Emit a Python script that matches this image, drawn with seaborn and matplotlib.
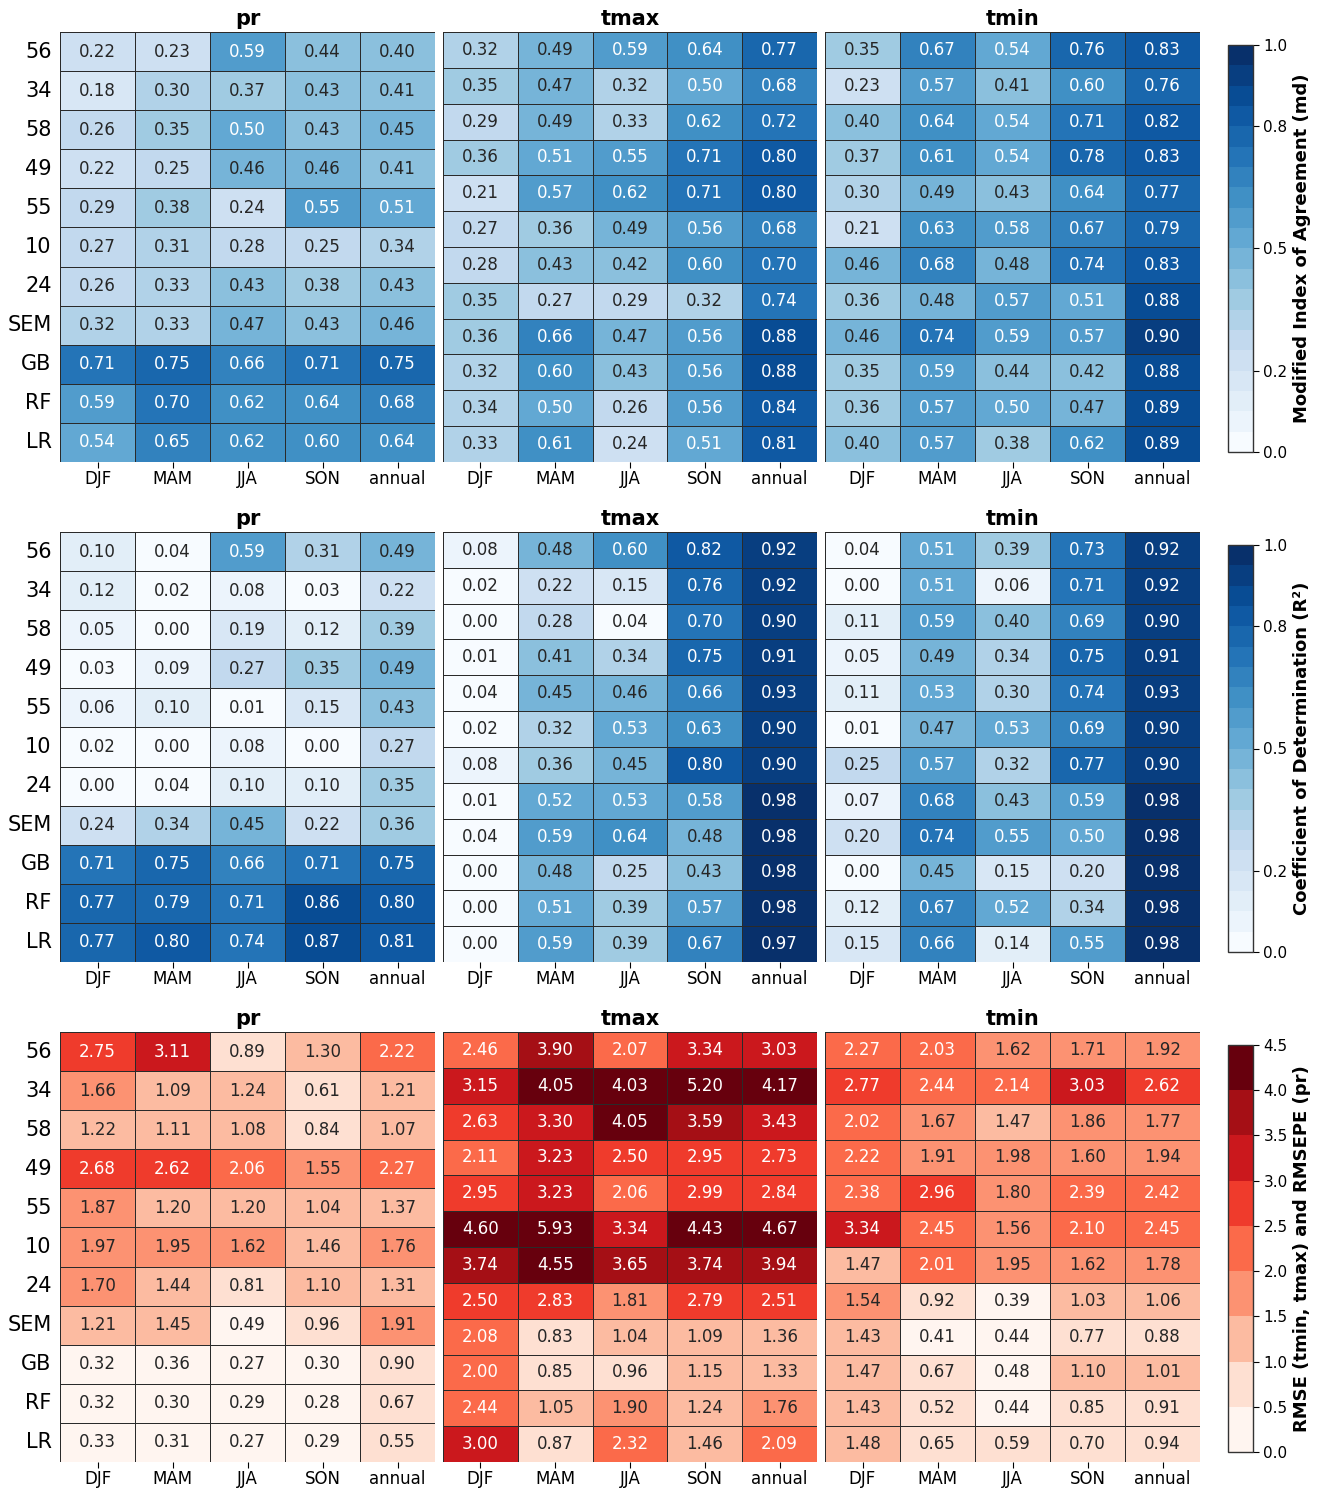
import numpy as np
import pandas as pd
import matplotlib
matplotlib.use("Agg")
import matplotlib.pyplot as plt
import matplotlib.colors as mcolors
import seaborn as sns

# ---------------- data ----------------
seasons = ["DJF", "MAM", "JJA", "SON", "annual"]
pr_rows = ["56", "34", "58", "49", "55", "10", "24", "SEM", "GB", "RF", "LR"]
t_rows = [f"r{i}" for i in range(12)]

md_pr = [
    [0.22, 0.23, 0.59, 0.44, 0.40],
    [0.18, 0.30, 0.37, 0.43, 0.41],
    [0.26, 0.35, 0.50, 0.43, 0.45],
    [0.22, 0.25, 0.46, 0.46, 0.41],
    [0.29, 0.38, 0.24, 0.55, 0.51],
    [0.27, 0.31, 0.28, 0.25, 0.34],
    [0.26, 0.33, 0.43, 0.38, 0.43],
    [0.32, 0.33, 0.47, 0.43, 0.46],
    [0.71, 0.75, 0.66, 0.71, 0.75],
    [0.59, 0.70, 0.62, 0.64, 0.68],
    [0.54, 0.65, 0.62, 0.60, 0.64],
]
md_tmax = [
    [0.32, 0.49, 0.59, 0.64, 0.77],
    [0.35, 0.47, 0.32, 0.50, 0.68],
    [0.29, 0.49, 0.33, 0.62, 0.72],
    [0.36, 0.51, 0.55, 0.71, 0.80],
    [0.21, 0.57, 0.62, 0.71, 0.80],
    [0.27, 0.36, 0.49, 0.56, 0.68],
    [0.28, 0.43, 0.42, 0.60, 0.70],
    [0.35, 0.27, 0.29, 0.32, 0.74],
    [0.36, 0.66, 0.47, 0.56, 0.88],
    [0.32, 0.60, 0.43, 0.56, 0.88],
    [0.34, 0.50, 0.26, 0.56, 0.84],
    [0.33, 0.61, 0.24, 0.51, 0.81],
]
md_tmin = [
    [0.35, 0.67, 0.54, 0.76, 0.83],
    [0.23, 0.57, 0.41, 0.60, 0.76],
    [0.40, 0.64, 0.54, 0.71, 0.82],
    [0.37, 0.61, 0.54, 0.78, 0.83],
    [0.30, 0.49, 0.43, 0.64, 0.77],
    [0.21, 0.63, 0.58, 0.67, 0.79],
    [0.46, 0.68, 0.48, 0.74, 0.83],
    [0.36, 0.48, 0.57, 0.51, 0.88],
    [0.46, 0.74, 0.59, 0.57, 0.90],
    [0.35, 0.59, 0.44, 0.42, 0.88],
    [0.36, 0.57, 0.50, 0.47, 0.89],
    [0.40, 0.57, 0.38, 0.62, 0.89],
]

r2_pr = [
    [0.10, 0.04, 0.59, 0.31, 0.49],
    [0.12, 0.02, 0.08, 0.03, 0.22],
    [0.05, 0.00, 0.19, 0.12, 0.39],
    [0.03, 0.09, 0.27, 0.35, 0.49],
    [0.06, 0.10, 0.01, 0.15, 0.43],
    [0.02, 0.00, 0.08, 0.00, 0.27],
    [0.00, 0.04, 0.10, 0.10, 0.35],
    [0.24, 0.34, 0.45, 0.22, 0.36],
    [0.71, 0.75, 0.66, 0.71, 0.75],
    [0.77, 0.79, 0.71, 0.86, 0.80],
    [0.77, 0.80, 0.74, 0.87, 0.81],
]
r2_tmax = [
    [0.08, 0.48, 0.60, 0.82, 0.92],
    [0.02, 0.22, 0.15, 0.76, 0.92],
    [0.00, 0.28, 0.04, 0.70, 0.90],
    [0.01, 0.41, 0.34, 0.75, 0.91],
    [0.04, 0.45, 0.46, 0.66, 0.93],
    [0.02, 0.32, 0.53, 0.63, 0.90],
    [0.08, 0.36, 0.45, 0.80, 0.90],
    [0.01, 0.52, 0.53, 0.58, 0.98],
    [0.04, 0.59, 0.64, 0.48, 0.98],
    [0.00, 0.48, 0.25, 0.43, 0.98],
    [0.00, 0.51, 0.39, 0.57, 0.98],
    [0.00, 0.59, 0.39, 0.67, 0.97],
]
r2_tmin = [
    [0.04, 0.51, 0.39, 0.73, 0.92],
    [0.00, 0.51, 0.06, 0.71, 0.92],
    [0.11, 0.59, 0.40, 0.69, 0.90],
    [0.05, 0.49, 0.34, 0.75, 0.91],
    [0.11, 0.53, 0.30, 0.74, 0.93],
    [0.01, 0.47, 0.53, 0.69, 0.90],
    [0.25, 0.57, 0.32, 0.77, 0.90],
    [0.07, 0.68, 0.43, 0.59, 0.98],
    [0.20, 0.74, 0.55, 0.50, 0.98],
    [0.00, 0.45, 0.15, 0.20, 0.98],
    [0.12, 0.67, 0.52, 0.34, 0.98],
    [0.15, 0.66, 0.14, 0.55, 0.98],
]

rmse_pr = [
    [2.75, 3.11, 0.89, 1.30, 2.22],
    [1.66, 1.09, 1.24, 0.61, 1.21],
    [1.22, 1.11, 1.08, 0.84, 1.07],
    [2.68, 2.62, 2.06, 1.55, 2.27],
    [1.87, 1.20, 1.20, 1.04, 1.37],
    [1.97, 1.95, 1.62, 1.46, 1.76],
    [1.70, 1.44, 0.81, 1.10, 1.31],
    [1.21, 1.45, 0.49, 0.96, 1.91],
    [0.32, 0.36, 0.27, 0.30, 0.90],
    [0.32, 0.30, 0.29, 0.28, 0.67],
    [0.33, 0.31, 0.27, 0.29, 0.55],
]
rmse_tmax = [
    [2.46, 3.90, 2.07, 3.34, 3.03],
    [3.15, 4.05, 4.03, 5.20, 4.17],
    [2.63, 3.30, 4.05, 3.59, 3.43],
    [2.11, 3.23, 2.50, 2.95, 2.73],
    [2.95, 3.23, 2.06, 2.99, 2.84],
    [4.60, 5.93, 3.34, 4.43, 4.67],
    [3.74, 4.55, 3.65, 3.74, 3.94],
    [2.50, 2.83, 1.81, 2.79, 2.51],
    [2.08, 0.83, 1.04, 1.09, 1.36],
    [2.00, 0.85, 0.96, 1.15, 1.33],
    [2.44, 1.05, 1.90, 1.24, 1.76],
    [3.00, 0.87, 2.32, 1.46, 2.09],
]
rmse_tmin = [
    [2.27, 2.03, 1.62, 1.71, 1.92],
    [2.77, 2.44, 2.14, 3.03, 2.62],
    [2.02, 1.67, 1.47, 1.86, 1.77],
    [2.22, 1.91, 1.98, 1.60, 1.94],
    [2.38, 2.96, 1.80, 2.39, 2.42],
    [3.34, 2.45, 1.56, 2.10, 2.45],
    [1.47, 2.01, 1.95, 1.62, 1.78],
    [1.54, 0.92, 0.39, 1.03, 1.06],
    [1.43, 0.41, 0.44, 0.77, 0.88],
    [1.47, 0.67, 0.48, 1.10, 1.01],
    [1.43, 0.52, 0.44, 0.85, 0.91],
    [1.48, 0.65, 0.59, 0.70, 0.94],
]

variables = ["pr", "tmax", "tmin"]
cbar_labels = ["Modified Index of Agreement (md)",
               "Coefficient of Determination (R²)",
               "RMSE (tmin, tmax) and RMSEPE (pr)"]

# ---------------- styling ----------------
plt.rcParams["font.family"] = ["DejaVu Sans"]
W, H = 1318, 1489
fig = plt.figure(figsize=(W / 100, H / 100), dpi=100)


def rect(x0, x1, y0, y1):
    return [x0 / W, 1 - y1 / H, (x1 - x0) / W, (y1 - y0) / H]


col_x = [(60, 435), (443, 817), (825, 1200)]
row_y = [(32, 462), (532, 962), (1032, 1462)]
cbar_y = [(45, 452), (545, 952), (1045, 1452)]

blues = matplotlib.colormaps["Blues"].resampled(20)
reds = matplotlib.colormaps["Reds"].resampled(9)

# (data..., cmap, vmin, vmax, colorbar ticks, first colour bin with white text)
rows_data = [
    (md_pr, md_tmax, md_tmin, blues, 0.0, 1.0, [0.0, 0.2, 0.5, 0.8, 1.0], 10),
    (r2_pr, r2_tmax, r2_tmin, blues, 0.0, 1.0, [0.0, 0.2, 0.5, 0.8, 1.0], 10),
    (rmse_pr, rmse_tmax, rmse_tmin, reds, 0.0, 4.5, list(np.arange(0, 4.51, 0.5)), 4),
]

for r, (d_pr, d_tmax, d_tmin, cmap, vmin, vmax, cticks, wbin) in enumerate(rows_data):
    cax = fig.add_axes(rect(1228, 1253, *cbar_y[r]))
    norm = mcolors.Normalize(vmin, vmax)
    for c, (data, var) in enumerate(zip([d_pr, d_tmax, d_tmin], variables)):
        ax = fig.add_axes(rect(*col_x[c], *row_y[r]))
        idx = pr_rows if c == 0 else t_rows
        df = pd.DataFrame(data, index=idx, columns=seasons)
        last = (c == 2)
        sns.heatmap(df, ax=ax, cmap=cmap, vmin=vmin, vmax=vmax,
                    annot=True, fmt=".2f", annot_kws={"fontsize": 12},
                    linewidths=0.7, linecolor="#2a2a2a",
                    cbar=last, cbar_ax=cax if last else None,
                    cbar_kws={"ticks": cticks} if last else None,
                    yticklabels=(c == 0))
        # text colour by colour bin
        flat = np.asarray(data, dtype=float).ravel()
        for txt, v in zip(ax.texts, flat):
            b = int(np.floor(float(norm(v)) * cmap.N))
            txt.set_color("white" if b >= wbin else "#262626")
        ax.set_title(var, fontsize=15, fontweight="bold", pad=5)
        ax.set_xlabel("")
        ax.set_ylabel("")
        ax.tick_params(axis="x", labelsize=12, rotation=0, length=4, pad=2)
        if c == 0:
            ax.tick_params(axis="y", labelsize=15, rotation=0, length=0, pad=6)
        else:
            ax.tick_params(axis="y", length=0)
        if last:
            cb = ax.collections[0].colorbar
            cb.outline.set_visible(True)
            cb.outline.set_linewidth(1.0)
            cb.outline.set_edgecolor("#333333")
            cb.ax.tick_params(labelsize=11, length=4)
            cb.ax.set_yticklabels([f"{t:.1f}" for t in cticks])
            cb.set_label(cbar_labels[r], fontsize=13, fontweight="bold", labelpad=4)

fig.savefig("out.png", dpi=100)
